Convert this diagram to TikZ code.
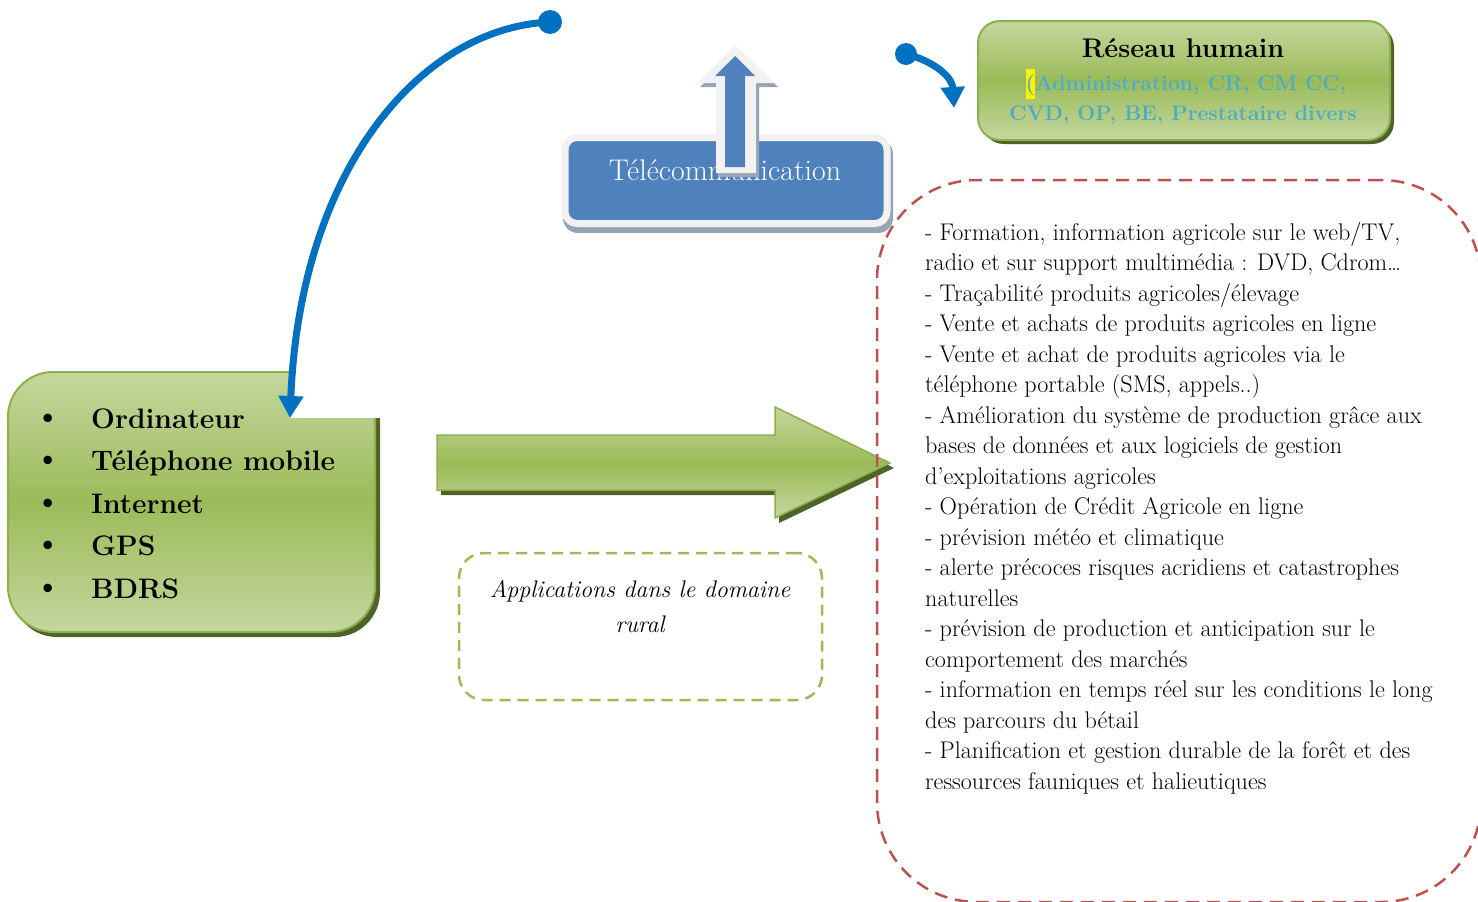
\documentclass[tikz,border=0pt]{standalone}
\usepackage{tikz}
\usetikzlibrary{positioning,arrows.meta}

\definecolor{vert}{HTML}{9BBB59}
\definecolor{vertclair}{HTML}{C4D79E}
\definecolor{vertbord}{HTML}{8EB04C}
\definecolor{vertombre}{HTML}{4F6228}
\definecolor{bleufleche}{HTML}{0070C0}
\definecolor{bleuboite}{HTML}{4F81BD}
\definecolor{bleutexte}{HTML}{4BACC6}
\definecolor{grisbord}{HTML}{F2F2F2}
\definecolor{grisombre}{HTML}{97A4B5}
\definecolor{rougetiret}{HTML}{C0504D}
\setlength{\fboxsep}{0pt}

\begin{document}
\begin{tikzpicture}[x=1pt,y=-1pt,
  degrade/.style={top color=vertclair,bottom color=vertclair,middle color=vert},
  fleche/.style={draw=bleufleche,line width=7pt,-{Triangle[width=24pt,length=22pt]}},
  corps/.style={font=\fontsize{24.1}{30.5}\selectfont,inner sep=0pt,align=left},
  puce/.style={font=\bfseries\fontsize{28.2}{42.5}\selectfont,inner sep=0pt}]
\useasboundingbox (0,0) rectangle (1478,902);
\coordinate (depart) at (550,22); \coordinate (encoche) at (290,418);
\coordinate (depart2) at (906,54); \coordinate (arrivee2) at (954,108);

% outils
\fill[vertombre,rounded corners=45pt] (12,377) rectangle (380,637);
\draw[degrade,draw=vertbord,line width=2pt,rounded corners=45pt] (8,372) rectangle (375,632);
\fill[white] (290,355) rectangle (392,418);
\foreach \mot [count=\i] in {Ordinateur,Téléphone mobile,Internet,GPS,BDRS}{
  \node[puce,anchor=base west] (outil\i) at (91,{428+42.5*(\i-1)}) {\mot};
  \node[inner sep=0pt,anchor=base,font=\fontsize{38}{38}\selectfont] (puce\i) at (48,{428+42.5*(\i-1)}) {\textbullet};
}
\fill[bleufleche] (depart) circle (12);
\draw[fleche] (depart) .. controls (420,28) and (300,170) .. (encoche);

% telecommunication
\fill[grisombre,rounded corners=15pt] (563,139) rectangle (893,233);
\node[draw=grisbord,line width=7pt,fill=bleuboite,rounded corners=12pt,minimum width=322pt,minimum height=86pt,inner sep=0pt] (telecom) at (726,180.5) {};
\node[inner sep=0pt,anchor=base,text=white,font=\fontsize{29.9}{32}\selectfont] (teltxt) at (725,180) {Télécommunication};
\fill[grisombre] (738,49) -- (778,87) -- (759,87) -- (759,177) -- (719,177) -- (719,87) -- (700,87) -- cycle;
\fill[grisbord] (735,45) -- (775,83) -- (756,83) -- (756,173) -- (716,173) -- (716,83) -- (697,83) -- cycle;
\fill[bleuboite] (735,56) -- (755,76) -- (745,76) -- (745,167) -- (725,167) -- (725,76) -- (715,76) -- cycle;

% reseau humain
\fill[bleufleche] (depart2) circle (11);
\draw[fleche,-{Triangle[width=23pt,length=21pt]}] (depart2) .. controls (930,60) and (952,75) .. (arrivee2);
\fill[vertombre,rounded corners=22pt] (982,25) rectangle (1394,144);
\node[degrade,draw=vertbord,line width=2pt,rounded corners=22pt,minimum width=412pt,minimum height=119pt] (reseau) at (1184,80.5) {};
\node[inner sep=0pt,anchor=base,font=\bfseries\fontsize{27}{30}\selectfont] (restitre) at (1183,57) {Réseau humain};
\node[inner sep=0pt,anchor=base,text=bleutexte,font=\bfseries\fontsize{21.2}{30}\selectfont] (resliste) at (1186,90) {\colorbox{yellow}{\strut(}Administration, CR, CM CC,};
\node[inner sep=0pt,anchor=base,text=bleutexte,font=\bfseries\fontsize{21.2}{30}\selectfont] (resliste2) at (1183,120) {CVD, OP, BE, Prestataire divers};

% grande fleche
\fill[vertombre] (441,440) -- (779,440) -- (779,412) -- (894,468) -- (779,523) -- (779,495) -- (441,495) -- cycle;
\draw[degrade,draw=vertbord,line width=1.5pt] (437,435) -- (775,435) -- (775,407) -- (890,463) -- (775,518) -- (775,490) -- (437,490) -- cycle;

\node[draw=vert,line width=2.5pt,dash pattern=on 11pt off 7pt,rounded corners=25pt,minimum width=363pt,minimum height=147pt] (applis) at (640.5,626.5) {};
\node[inner sep=0pt,anchor=north,align=center,font=\itshape\fontsize{24}{35}\selectfont] (applistxt) at (640,580.3) {Applications dans le domaine\\rural};

% usages
\node[draw=rougetiret,line width=2.5pt,dash pattern=on 13pt off 8pt,rounded corners=100pt,minimum width=604pt,minimum height=722pt] (usages) at (1179,541) {};
\node[corps,anchor=north west] (usagestxt) at (925,221.9) {- Formation, information agricole sur le web/TV,\\
radio et sur support multimédia : DVD, Cdrom\dots\\
- Traçabilité produits agricoles/élevage\\
- Vente et achats de produits agricoles en ligne\\
- Vente et achat de produits agricoles via le\\
téléphone portable (SMS, appels..)\\
- Amélioration du système de production grâce aux\\
bases de données et aux logiciels de gestion\\
d’exploitations agricoles\\
- Opération de Crédit Agricole en ligne\\
- prévision météo et climatique\\
- alerte précoces risques acridiens et catastrophes\\
naturelles\\
- prévision de production et anticipation sur le\\
comportement des marchés\\
- information en temps réel sur les conditions le long\\
des parcours du bétail\\
- Planification et gestion durable de la forêt et des\\
ressources fauniques et halieutiques};
\end{tikzpicture}
\end{document}
